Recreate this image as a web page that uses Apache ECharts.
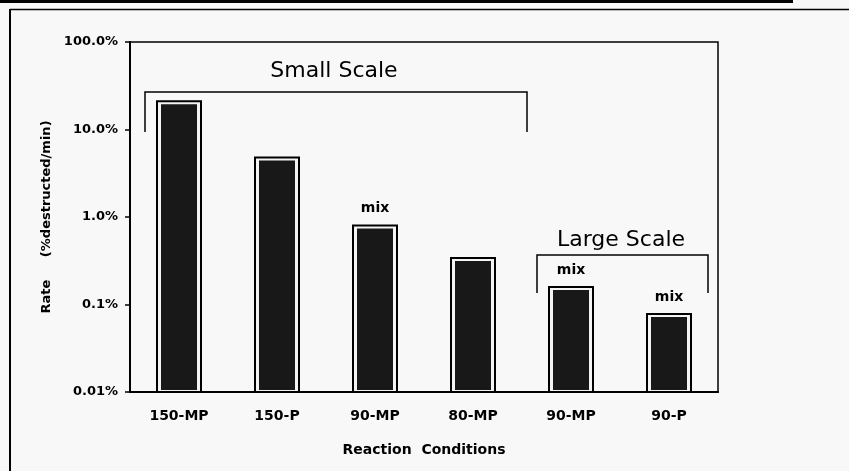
<!DOCTYPE html>
<html>
<head>
<meta charset="utf-8">
<script src="https://cdn.jsdelivr.net/npm/echarts@6/dist/echarts.min.js"></script>
<style>
  html, body { margin: 0; padding: 0; background: #f8f8f8; }
  #chart { width: 849px; height: 471px; }
</style>
</head>
<body>
<div id="chart"></div>
<script>
const categories = ['150-MP', '150-P', '90-MP', '80-MP', '90-MP ', '90-P']
const rates = [21, 4.8, 0.8, 0.34, 0.158, 0.078]   // % destructed / min
const mixLabels = ['', '', 'mix', '', 'mix', 'mix']
const yTickLabels = ['0.01%', '0.1%', '1.0%', '10.0%', '100.0%']
const yMin = 0.01

const chart = echarts.init(document.getElementById('chart'))
const bold = { fontFamily: 'DejaVu Sans', fontWeight: 'bold', color: '#000' }

// bar drawn from the bottom of the log axis, outlined box with a dark core
function renderBar(params, api) {
  const top = api.coord([api.value(0), api.value(1)])
  const bot = api.coord([api.value(0), yMin])
  const w = 44, h = bot[1] - top[1]
  const kids = [
    { type: 'rect', shape: { x: top[0] - w / 2, y: top[1], width: w, height: h },
      style: { fill: '#f4f4f4', stroke: '#000', lineWidth: 2 } },
    { type: 'rect', shape: { x: top[0] - w / 2 + 4, y: top[1] + 3, width: w - 8, height: h - 5 },
      style: { fill: '#181818' } },
  ]
  const lab = mixLabels[params.dataIndex]
  if (lab) kids.push({ type: 'text', x: top[0], y: top[1] - 17,
    style: { text: lab, font: 'bold 14px "DejaVu Sans"', fill: '#000', align: 'center', verticalAlign: 'middle' } })
  return { type: 'group', children: kids }
}

chart.setOption({
  backgroundColor: '#f8f8f8',
  animation: false,
  grid: { left: 130, right: 131, top: 42, bottom: 79, show: true, borderColor: '#000', borderWidth: 1.5 },
  xAxis: {
    type: 'category', data: categories,
    axisLine: { lineStyle: { color: '#000', width: 2 } },
    axisTick: { length: 5, lineStyle: { color: '#000', width: 1.5 } },
    axisLabel: { ...bold, fontSize: 14, margin: 17, formatter: v => v.trim() },
    name: 'Reaction  Conditions', nameLocation: 'middle', nameGap: 51,
    nameTextStyle: { ...bold, fontSize: 14 },
  },
  yAxis: {
    type: 'log', logBase: 10, min: yMin, max: 100,
    axisLine: { show: true, lineStyle: { color: '#000', width: 2 } },
    axisTick: { show: true, length: 5, lineStyle: { color: '#000', width: 1.5 } },
    splitLine: { show: false },
    axisLabel: {
      ...bold, fontSize: 13, margin: 12,
      formatter: v => yTickLabels[Math.round(Math.log10(v)) + 2],
    },
    name: 'Rate     (%destructed/min)', nameLocation: 'middle', nameGap: 77, nameRotate: 90,
    nameTextStyle: { ...bold, fontSize: 13 },
  },
  series: [
    {
      type: 'custom', renderItem: renderBar, clip: false,
      data: rates.map((v, i) => [i, v]),
    },
  ],
  graphic: [
    // page frame
    { type: 'rect', shape: { x: 0, y: 0, width: 793, height: 3 }, style: { fill: '#000' } },
    { type: 'line', shape: { x1: 10, y1: 9.5, x2: 849, y2: 9.5 }, style: { stroke: '#000', lineWidth: 1.5 } },
    { type: 'line', shape: { x1: 10, y1: 9, x2: 10, y2: 471 }, style: { stroke: '#000', lineWidth: 2 } },
    // Small Scale bracket
    { type: 'polyline', shape: { points: [[145, 132], [145, 92], [527, 92], [527, 132]] }, style: { stroke: '#000', lineWidth: 1.5, fill: null } },
    { type: 'text', x: 334, y: 71, style: { text: 'Small Scale', font: '22px "DejaVu Sans"', fill: '#000', align: 'center', verticalAlign: 'middle' } },
    // Large Scale bracket
    { type: 'polyline', shape: { points: [[537, 293], [537, 255], [708, 255], [708, 293]] }, style: { stroke: '#000', lineWidth: 1.5, fill: null } },
    { type: 'text', x: 621, y: 240, style: { text: 'Large Scale', font: '22px "DejaVu Sans"', fill: '#000', align: 'center', verticalAlign: 'middle' } },
  ],
})
</script>
</body>
</html>
